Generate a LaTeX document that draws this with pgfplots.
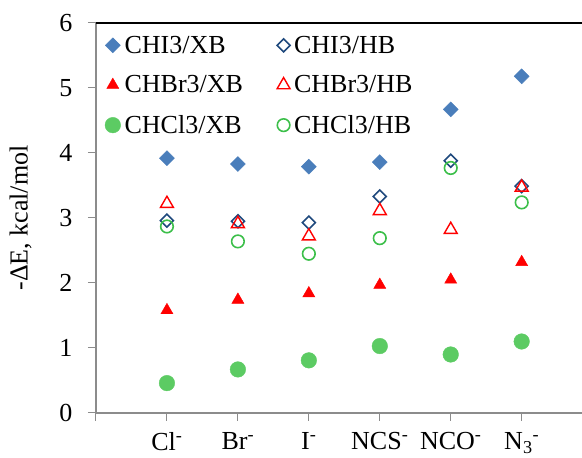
\documentclass[border=0pt]{standalone}
\usepackage{pgfplots}
\pgfplotsset{compat=1.18}
\usepackage{fontspec}
\setmainfont{Liberation Serif}
\definecolor{xbblue}{HTML}{4A7EBB}
\definecolor{hbblue}{HTML}{1F497D}
\definecolor{xbgreen}{HTML}{5CCB63}
\definecolor{hbgreen}{HTML}{3CBF4A}
\begin{document}
\begin{tikzpicture}
\useasboundingbox (-96pt,-45pt) rectangle (486pt,413pt);
\begin{axis}[
  scale only axis, width=486pt, height=390pt,
  xmin=0, xmax=6.85, ymin=0, ymax=6.0,
  axis x line*=bottom, axis y line*=left,
  axis line style={draw=gray!90, line width=1.6pt},
  xtick={0,1,2,3,4,5,6},
  xticklabels={,Cl\textsuperscript{-},Br\textsuperscript{-},I\textsuperscript{-},NCS\textsuperscript{-},NCO\textsuperscript{-},N\textsubscript{3}\textsuperscript{-}},
  ytick={0,1,2,3,4,5,6},
  yticklabels={0,1,2,3,4,5,6},
  tick align=outside, tick style={draw=gray!90, line width=1pt},
  major tick length=8pt,
  ticklabel style={font=\fontsize{26}{28}\selectfont},
  xticklabel style={yshift=-8pt},
  yticklabel style={xshift=-12pt},
  ylabel={-ΔE, kcal/mol},
  ylabel style={font=\fontsize{26}{28}\selectfont, yshift=21pt},
  legend columns=2,
  legend style={draw=none, fill=none, at={(0.012,0.975)}, anchor=north west,
    font=\fontsize{26}{28}\selectfont, row sep=19pt,
    nodes={anchor=west, inner sep=1pt}},
  legend cell align=left,
  /tikz/every odd column/.append style={column sep=3pt},
  /tikz/every even column/.append style={column sep=33pt},
  clip=false,
]
\addplot[only marks, mark=square*, mark size=5.3pt, mark options={rotate=45, fill=xbblue, draw=xbblue}]
  coordinates {(1,3.92) (2,3.83) (3,3.79) (4,3.86) (5,4.67) (6,5.18)};
\addlegendentry{CHI3/XB}
\addplot[only marks, mark=square, mark size=4.6pt, mark options={rotate=45, draw=hbblue, line width=1.6pt}]
  coordinates {(1,2.96) (2,2.95) (3,2.93) (4,3.33) (5,3.88) (6,3.49)};
\addlegendentry{CHI3/HB}
\addplot[only marks, mark=triangle*, mark size=7pt, mark options={fill=red, draw=red}]
  coordinates {(1,1.58) (2,1.74) (3,1.84) (4,1.97) (5,2.05) (6,2.32)};
\addlegendentry{CHBr3/XB}
\addplot[only marks, mark=triangle, mark size=7.5pt, mark options={draw=red, line width=1.4pt}]
  coordinates {(1,3.22) (2,2.91) (3,2.72) (4,3.11) (5,2.82) (6,3.47)};
\addlegendentry{CHBr3/HB}
\addplot[only marks, mark=*, mark size=7.8pt, mark options={fill=xbgreen, draw=xbgreen}]
  coordinates {(1,0.46) (2,0.67) (3,0.81) (4,1.03) (5,0.90) (6,1.10)};
\addlegendentry{CHCl3/XB}
\addplot[only marks, mark=o, mark size=6.3pt, mark options={draw=hbgreen, line width=1.6pt}]
  coordinates {(1,2.87) (2,2.64) (3,2.45) (4,2.69) (5,3.77) (6,3.24)};
\addlegendentry{CHCl3/HB}
\draw[black, line width=1.8pt] (rel axis cs:0,1) -- (rel axis cs:1,1);
\end{axis}
\end{tikzpicture}
\end{document}
